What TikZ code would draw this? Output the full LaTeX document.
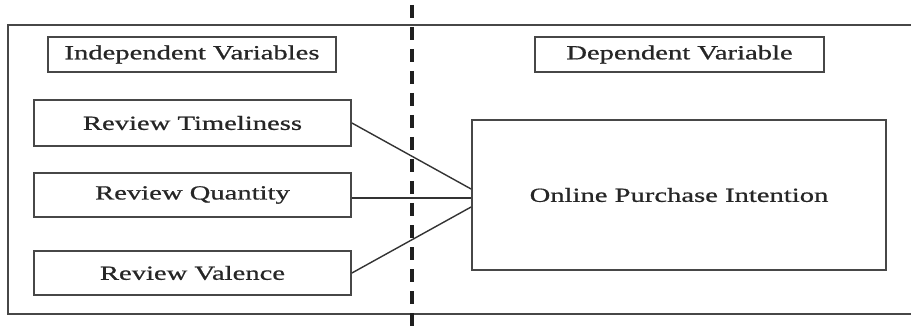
\documentclass[tikz,border=0pt]{standalone}
\usepackage{fontspec}
\setmainfont{Liberation Serif}[FakeStretch=1.43,FakeBold=0.8]
\begin{document}
\begin{tikzpicture}[x=1pt,y=-1pt,
  frameline/.style={draw=black!72, line width=1.8pt},
  varbox/.style={frameline, rectangle, inner sep=0pt, font=\fontsize{20}{24}\selectfont, text=black!85},
  link/.style={draw=black!80, line width=1.4pt},
  divider/.style={draw=black!88, line width=4pt, dash pattern=on 13pt off 9pt}]
  \useasboundingbox (0,0) rectangle (911,334);
  \fill[white] (0,0) rectangle (911,334);

  % outer frame, open on the right
  \draw[frameline] (911,25) -- (8,25) -- (8,314) -- (911,314);

  % heading boxes
  \node[varbox, minimum width=288pt, minimum height=35pt] (iv) at (192,54.5) {Independent Variables};
  \node[varbox, minimum width=289pt, minimum height=35pt] (dv) at (679.5,54.5) {Dependent Variable};

  % independent variables
  \node[varbox, minimum width=317pt, minimum height=46pt] (rt) at (192.5,123) {Review Timeliness};
  \node[varbox, minimum width=317pt, minimum height=44pt] (rq) at (192.5,195) {Review Quantity};
  \node[varbox, minimum width=317pt, minimum height=44pt] (rv) at (192.5,273) {Review Valence};

  % dependent variable
  \node[varbox, minimum width=414pt, minimum height=150pt] (opi) at (679,195) {Online Purchase Intention};

  % attachment points on the dependent box
  \coordinate (in1) at (opi.west |- 0,189);
  \coordinate (in2) at (opi.west |- 0,198);
  \coordinate (in3) at (opi.west |- 0,207);

  \draw[link] (rt.east) -- (in1);
  \draw[link] (rq.east |- in2) -- (in2);
  \draw[link] (rv.east) -- (in3);

  % vertical divider
  \coordinate (dtop) at (412,5);
  \coordinate (dbot) at (412,334);
  \draw[divider] (dtop) -- (dbot);
\end{tikzpicture}
\end{document}
